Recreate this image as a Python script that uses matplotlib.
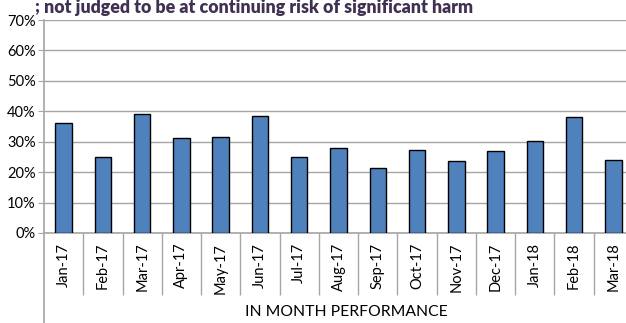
import matplotlib.pyplot as plt
from matplotlib.ticker import PercentFormatter

months = ["Jan-17", "Feb-17", "Mar-17", "Apr-17", "May-17", "Jun-17", "Jul-17",
          "Aug-17", "Sep-17", "Oct-17", "Nov-17", "Dec-17", "Jan-18", "Feb-18",
          "Mar-18"]
rate = [36.2, 25.0, 39.0, 31.2, 31.4, 38.5, 25.0,
        27.9, 21.4, 27.3, 23.7, 27.0, 30.3, 38.0, 24.0]

title = "; not judged to be at continuing risk of significant harm"
group_label = "IN MONTH PERFORMANCE"

plt.rcParams['font.family'] = ['Lato', 'DejaVu Sans']
grey = '#a6a6a6'

fig = plt.figure(figsize=(6.26, 3.23), dpi=100)
ax = fig.add_axes([44 / 626, 1 - 233 / 323, 589 / 626, 213 / 323])

x = list(range(len(months)))
ax.bar(x, rate, width=0.42, color='#4f81bd', edgecolor='black', linewidth=1.0, zorder=3)

ax.set_xlim(-0.5, len(months) - 0.5)
ax.set_ylim(0, 70)
ax.set_yticks(range(0, 80, 10))
ax.yaxis.set_major_formatter(PercentFormatter(decimals=0))
ax.grid(axis='y', color=grey, linewidth=1.0, zorder=0)

for side in ['top', 'right']:
    ax.spines[side].set_visible(False)
for side in ['left', 'bottom']:
    ax.spines[side].set_color(grey)
    ax.spines[side].set_linewidth(1.2)

ax.tick_params(axis='y', length=4, color=grey, labelsize=10.5, pad=2)
ax.set_xticks(x)
ax.set_xticklabels(months, rotation=90, fontsize=10.5)
ax.tick_params(axis='x', length=0, pad=7)

# category dividers below the axis, left one runs to the bottom edge
trans = ax.get_xaxis_transform()
ax.vlines([i - 0.5 for i in range(1, len(months) + 1)], -62 / 213, 0,
          transform=trans, color=grey, linewidth=1.0, clip_on=False)
ax.vlines([-0.5], -92 / 213, 0, transform=trans, color=grey,
          linewidth=1.2, clip_on=False)

fig.text(346 / 626, 1 - 312 / 323, group_label, ha='center', va='center', fontsize=11.3)
fig.text(35 / 626, 1 - 8 / 323, title, ha='left', va='center', fontsize=12.8,
         fontweight='heavy', color='#403152')

fig.savefig('out.png', dpi=100)
